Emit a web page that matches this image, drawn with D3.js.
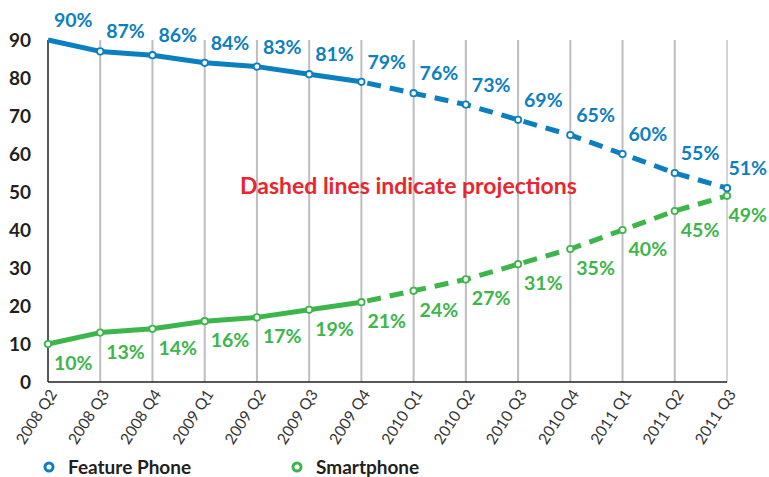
<!DOCTYPE html>
<html>
<head>
    <meta charset="UTF-8">
    <title>Feature Phone vs Smartphone</title>
    <script src="https://d3js.org/d3.v7.min.js"></script>
    <style>
        body {
            background-color: #ffffff;
            margin: 0;
            padding: 0;
        }
        svg text {
            font-family: 'Lato', 'Open Sans', sans-serif;
        }
    </style>
</head>
<body>
    <svg width="769" height="477"></svg>

    <script>
        const quarters = ["2008 Q2", "2008 Q3", "2008 Q4", "2009 Q1", "2009 Q2", "2009 Q3", "2009 Q4",
            "2010 Q1", "2010 Q2", "2010 Q3", "2010 Q4", "2011 Q1", "2011 Q2", "2011 Q3"];
        const featurePhone = [90, 87, 86, 84, 83, 81, 79, 76, 73, 69, 65, 60, 55, 51];
        const smartphone = [10, 13, 14, 16, 17, 19, 21, 24, 27, 31, 35, 40, 45, 49];
        const yTicks = [0, 10, 20, 30, 40, 50, 60, 70, 80, 90];
        const lastActual = 6; // 2009 Q4, after that projections

        const blue = "#0c7fc1", green = "#3cb64a", red = "#e8262d", ink = "#231f20";

        const svg = d3.select("svg");

        const x = d3.scalePoint().domain(quarters).range([48, 727]);
        const y = d3.scaleLinear().domain([0, 90]).range([382, 40]);

        // vertical grid lines
        svg.append("g").selectAll("line")
            .data(quarters.slice(1))
            .enter().append("line")
            .attr("x1", d => x(d)).attr("x2", d => x(d))
            .attr("y1", y(0)).attr("y2", y(90))
            .attr("stroke", (d, i) => i == quarters.length - 2 ? "#d4d4d8" : "#bdbdc2")
            .attr("stroke-width", 2);

        // axes
        svg.append("line")
            .attr("x1", x(quarters[0])).attr("x2", x(quarters[0]))
            .attr("y1", y(0)).attr("y2", y(90))
            .attr("stroke", ink).attr("stroke-width", 1.5);
        svg.append("line")
            .attr("x1", x(quarters[0])).attr("x2", x(quarters[quarters.length - 1]))
            .attr("y1", y(0)).attr("y2", y(0))
            .attr("stroke", ink).attr("stroke-width", 1.5);

        svg.append("g").selectAll("text")
            .data(yTicks)
            .enter().append("text")
            .attr("x", 31).attr("y", d => y(d))
            .attr("dy", "0.36em")
            .attr("text-anchor", "end")
            .attr("font-size", 19).attr("font-weight", 700)
            .attr("fill", ink)
            .text(d => d);

        svg.append("g").selectAll("text")
            .data(quarters)
            .enter().append("text")
            .attr("transform", d => "translate(" + (x(d) + 5) + "," + 391 + ") rotate(-57)")
            .attr("dy", "0.35em")
            .attr("text-anchor", "end")
            .attr("font-size", 15.5)
            .attr("fill", "#333")
            .text(d => d);

        const line = d3.line()
            .x(d => x(d.q))
            .y(d => y(d.v));

        function drawSeries(values, color, labelDy, firstMarker) {
            let pts = values.map((v, i) => ({ q: quarters[i], v: v }));
            let g = svg.append("g");
            g.append("path")
                .attr("d", line(pts.slice(0, lastActual + 1)))
                .attr("fill", "none").attr("stroke", color)
                .attr("stroke-width", 5).attr("stroke-linejoin", "round");
            g.append("path")
                .attr("d", line(pts.slice(lastActual)))
                .attr("fill", "none").attr("stroke", color)
                .attr("stroke-width", 5)
                .attr("stroke-dasharray", "14,9")
                .attr("stroke-dashoffset", -6);
            g.selectAll("circle")
                .data(firstMarker ? pts : pts.slice(1))
                .enter().append("circle")
                .attr("cx", d => x(d.q)).attr("cy", d => y(d.v))
                .attr("r", 3.2)
                .attr("fill", "#fff").attr("stroke", color).attr("stroke-width", 1.8);
            g.selectAll("text")
                .data(pts)
                .enter().append("text")
                .attr("x", d => x(d.q) + 6)
                .attr("y", d => y(d.v) + labelDy)
                .attr("font-size", 19.5).attr("font-weight", 700)
                .attr("fill", color)
                .text(d => d.v + "%")
                .each(function () {
                    // keep labels inside the right edge
                    let w = this.getComputedTextLength();
                    let x0 = +this.getAttribute("x");
                    if (x0 + w > 767) this.setAttribute("x", 767 - w);
                });
        }

        drawSeries(featurePhone, blue, -13, false);
        drawSeries(smartphone, green, 26, true);

        svg.append("text")
            .attr("x", 240).attr("y", 194)
            .attr("font-size", 23).attr("font-weight", 700)
            .attr("fill", red)
            .text("Dashed lines indicate projections");

        // legend
        const legend = [{ name: "Feature Phone", color: blue, x: 49 }, { name: "Smartphone", color: green, x: 297 }];
        let lg = svg.append("g").selectAll("g").data(legend).enter().append("g");
        lg.append("circle")
            .attr("cx", d => d.x).attr("cy", 467).attr("r", 4)
            .attr("fill", "#fff").attr("stroke", d => d.color).attr("stroke-width", 3);
        lg.append("text")
            .attr("x", d => d.x + 19).attr("y", 474)
            .attr("font-size", 19).attr("font-weight", 700)
            .attr("fill", ink)
            .text(d => d.name);
    </script>
</body>
</html>
